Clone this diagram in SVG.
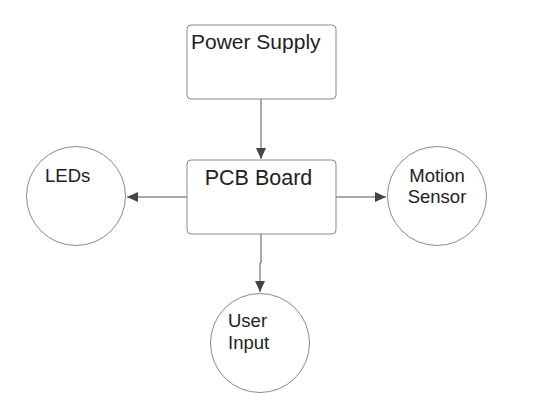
<svg xmlns="http://www.w3.org/2000/svg" width="538" height="403" viewBox="0 0 538 403">
<style>
.box{fill:#fff;stroke:#8a8a8a;stroke-width:1}
.t{font-family:"Liberation Sans",Arial,sans-serif;fill:#222}
.c{fill:none;stroke:#555;stroke-width:1}
</style>
<defs>
<marker id="ah" markerWidth="12" markerHeight="10" refX="11" refY="5" orient="auto" markerUnits="userSpaceOnUse">
<path d="M0,0 L11,5 L0,10 Z" fill="#444"/>
</marker>
</defs>
<rect width="538" height="403" fill="#fff"/>
<g id="connectors">
<path class="c" d="M261,99 L261,159" marker-end="url(#ah)"/>
<path class="c" d="M187,197 L127,197" marker-end="url(#ah)"/>
<path class="c" d="M336,197 L386,197" marker-end="url(#ah)"/>
<path class="c" d="M261,234 L261,263 L260,263 L260,292" marker-end="url(#ah)"/>
</g>
<g id="power-supply">
<rect class="box" x="187" y="25" width="149" height="74" rx="4"/>
<text class="t" x="191" y="49" font-size="21">Power Supply</text>
</g>
<g id="pcb-board">
<rect class="box" x="187" y="160" width="149" height="74" rx="4"/>
<text class="t" x="258.5" y="185" font-size="21.5" text-anchor="middle">PCB Board</text>
</g>
<g id="leds">
<circle class="box" cx="76" cy="196" r="49.5"/>
<text class="t" x="45" y="182" font-size="18.5">LEDs</text>
</g>
<g id="motion-sensor">
<circle class="box" cx="437" cy="196" r="49.5"/>
<text class="t" x="437" y="182" font-size="18.5" text-anchor="middle">Motion</text>
<text class="t" x="437" y="203" font-size="18.5" text-anchor="middle">Sensor</text>
</g>
<g id="user-input">
<circle class="box" cx="260" cy="343" r="49.5"/>
<text class="t" x="228" y="327" font-size="18.5">User</text>
<text class="t" x="228" y="349" font-size="18.5">Input</text>
</g>
</svg>
